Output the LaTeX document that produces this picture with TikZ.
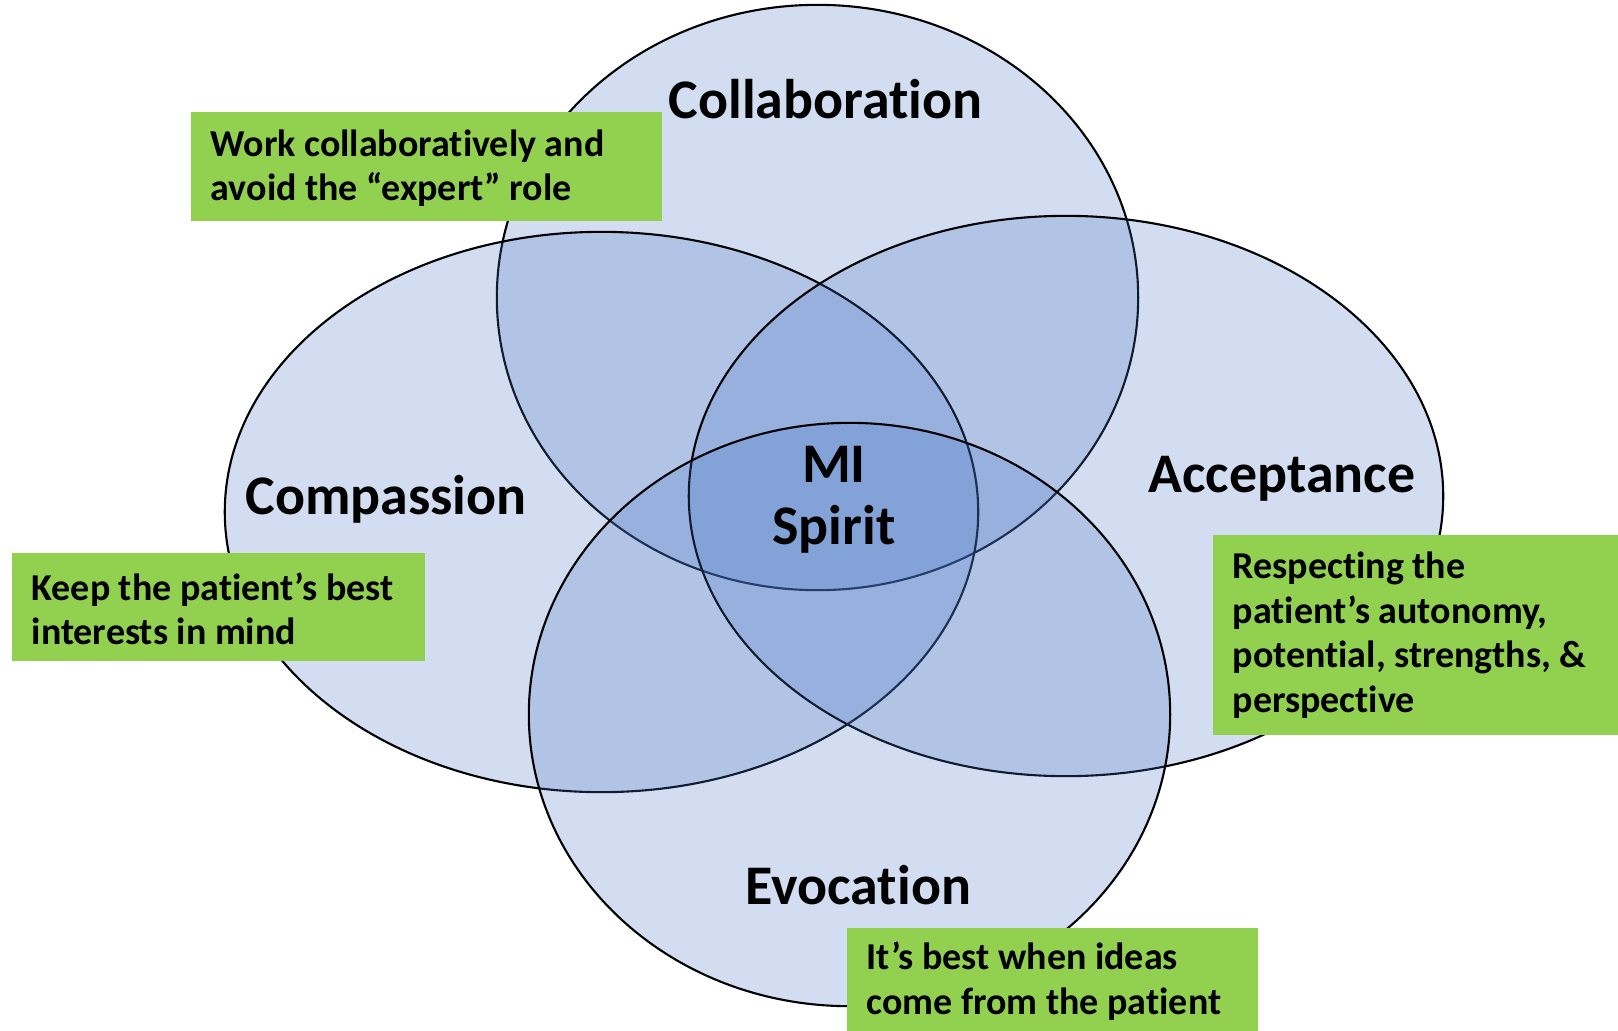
\documentclass[tikz,border=0pt]{standalone}
\usepackage{fontspec}
\setmainfont{Carlito}[Ligatures=NoCommon]
\definecolor{spiritblue}{HTML}{4472C4}
\definecolor{notegreen}{HTML}{92D050}

\tikzset{
  spirit/.style={draw=black, line width=0.6pt, fill=spiritblue, fill opacity=0.24},
  heading/.style={font=\bfseries\fontsize{15.9}{17.6}\selectfont, align=center, inner sep=0pt},
  notebox/.style={fill=notegreen, anchor=north west, inner sep=0pt},
  notetext/.style={font=\bfseries\fontsize{10.8}{12.7}\selectfont, align=left,
    anchor=west, inner sep=0pt, xshift=0.2cm, yshift=-0.02cm},
}

\begin{document}
\begin{tikzpicture}[x=0.01cm, y=-0.01cm]
\useasboundingbox (0,0) rectangle (1618,1030);

% The four overlapping ellipses
\draw[spirit] (817.5,297.5) ellipse [x radius=3.205cm, y radius=2.925cm];
\draw[spirit] (601.5,512) ellipse [x radius=3.765cm, y radius=2.80cm];
\draw[spirit] (1066,496) ellipse [x radius=3.77cm, y radius=2.80cm];
\draw[spirit] (849.5,714.5) ellipse [x radius=3.205cm, y radius=2.915cm];

% Labels
\node[heading] (collab) at (825.5,99) {Collaboration};
\node[heading] (compass) at (386,499) {Compassion};
\node[heading] (accept) at (1282,479) {Acceptance};
\node[heading] (evoc) at (858.5,885) {Evocation};
\node[heading] (spirit) at (834,500) {MI\\Spirit};

% Green notes
\node[notebox, minimum width=4.71cm, minimum height=1.09cm] (workbox) at (190,111) {};
\node[notetext] (worknote) at (workbox.west)
  {Work collaboratively and\\avoid the “expert” role};

\node[notebox, minimum width=4.13cm, minimum height=1.08cm] (keepbox) at (11,552) {};
\node[notetext] (keepnote) at (keepbox.west)
  {Keep the patient’s best\\interests in mind};

\node[notebox, minimum width=4.06cm, minimum height=1.995cm] (respectbox) at (1212,534.5) {};
\node[notetext, yshift=0.02cm] (respectnote) at (respectbox.west)
  {Respecting the\\patient’s autonomy,\\potential, strengths, \&\\perspective};

\node[notebox, minimum width=4.11cm, minimum height=1.03cm] (ideabox) at (846,927) {};
\node[notetext] (ideanote) at (ideabox.west)
  {It’s best when ideas\\come from the patient};

\end{tikzpicture}
\end{document}
